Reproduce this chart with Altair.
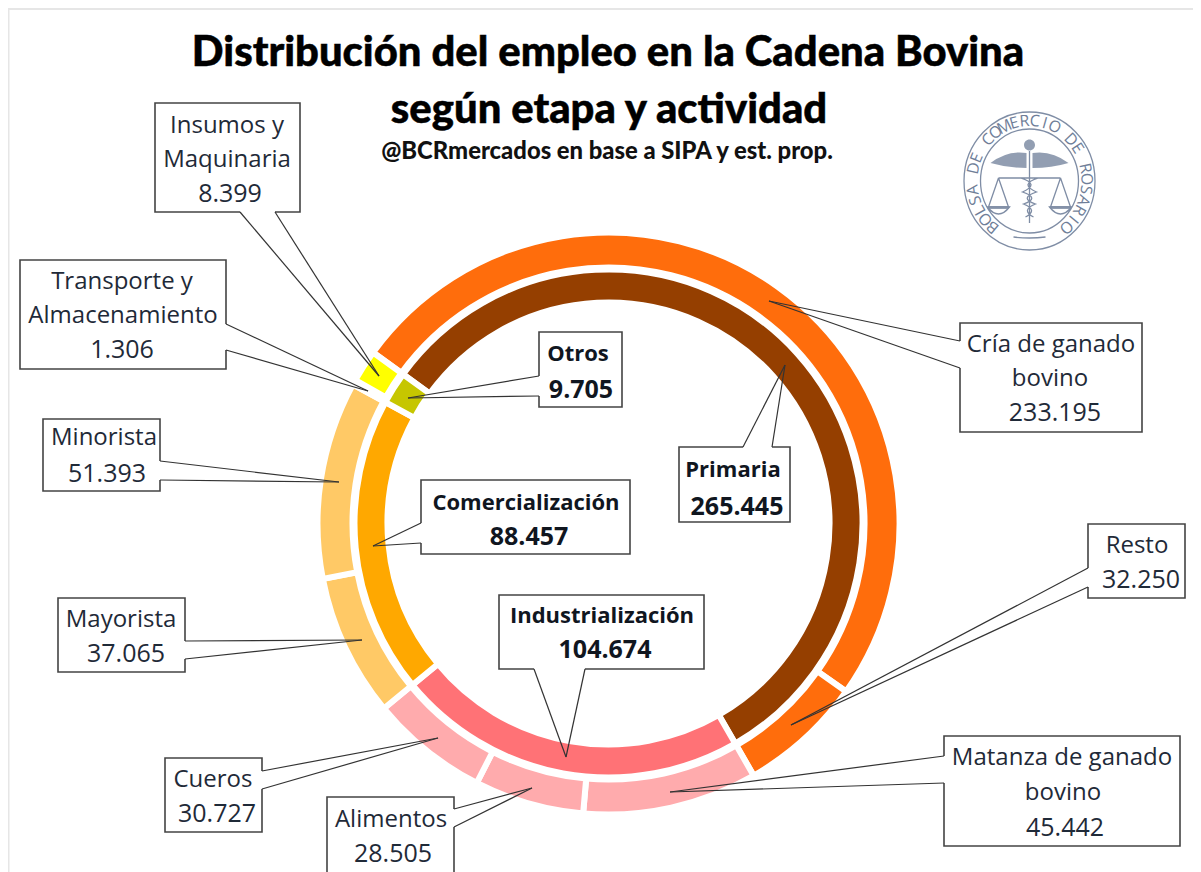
import math
import altair as alt
import pandas as pd

# ---------- values ----------
inner_names = ["Primaria", "Industrialización", "Comercialización", "Otros"]
inner_values = [265445, 104674, 88457, 9705]
inner_colors = ["#953F00", "#FF7276", "#FFA800", "#C6C600"]

outer_names = ["Cría de ganado bovino", "Resto", "Matanza de ganado bovino", "Alimentos",
               "Cueros", "Mayorista", "Minorista", "Transporte y Almacenamiento", "Insumos y Maquinaria"]
outer_values = [233195, 32250, 45442, 28505, 30727, 37065, 51393, 1306, 8399]
outer_colors = ["#FF6D0C", "#FF6D0C", "#FFABAD", "#FFABAD", "#FFABAD", "#FFC966", "#FFC966", "#FFFF00", "#FFFF00"]

# ---------- layout (reference pixels) ----------
OFF = 8
CX, CY = 608.5 - OFF, 523.5 - OFF
START = math.radians(-54.0)
W, H = 1185, 864
GAP = 6

# box: x0,y0,x1,y1, anchor a, anchor b, tip, bold, lines (text, cx, cy)
callouts = [
    (155, 103, 300, 212, (240, 212), (275, 212), (379, 376), False,
     [("Insumos y", 227, 125), ("Maquinaria", 227, 159), ("8.399", 230, 193)]),
    (20, 260, 226, 369, (226, 324), (226, 350), (368, 391), False,
     [("Transporte y", 122, 281), ("Almacenamiento", 123, 315), ("1.306", 122, 349)]),
    (43, 419, 160, 491, (160, 461), (160, 480), (339, 482), False,
     [("Minorista", 104, 437), ("51.393", 107, 473)]),
    (58, 598, 185, 672, (185, 641), (185, 659), (362, 640), False,
     [("Mayorista", 121, 619), ("37.065", 126, 653)]),
    (165, 758, 262, 832, (262, 771), (262, 789), (438, 738), False,
     [("Cueros", 213, 779), ("30.727", 217, 813)]),
    (327, 797, 454, 885, (454, 809), (454, 827), (532, 788), False,
     [("Alimentos", 391, 819), ("28.505", 393, 853)]),
    (944, 736, 1180, 846, (944, 756), (944, 783), (670, 792), False,
     [("Matanza de ganado", 1062, 757), ("bovino", 1063, 792), ("45.442", 1065, 827)]),
    (1088, 524, 1185, 598, (1088, 568), (1088, 587), (791, 725), False,
     [("Resto", 1137, 545), ("32.250", 1141, 579)]),
    (960, 323, 1142, 432, (960, 341), (960, 368), (769, 301), False,
     [("Cría de ganado", 1051, 344), ("bovino", 1050, 378), ("233.195", 1055, 412)]),
    (679, 447, 790, 522, (743, 447), (772, 447), (785, 365), True,
     [("Primaria", 733, 469), ("265.445", 737, 506)]),
    (539, 332, 622, 407, (539, 376), (539, 396), (408, 398), True,
     [("Otros", 578, 353), ("9.705", 581, 389)]),
    (421, 480, 630, 554, (421, 523), (421, 543), (373, 546), True,
     [("Comercialización", 526, 502), ("88.457", 529, 536)]),
    (499, 595, 704, 669, (534, 669), (585, 669), (566, 757), True,
     [("Industrialización", 602, 615), ("104.674", 605, 649)]),
]

boxes, pointers, erasers, labels = [], [], [], []
for x0, y0, x1, y1, a, b, tip, bold, lines in callouts:
    boxes.append(dict(x=x0 - OFF, x2=x1 - OFF, y=y0 - OFF, y2=y1 - OFF))
    for p in (a, b):
        pointers.append(dict(x=p[0] - OFF, y=p[1] - OFF, x2=tip[0] - OFF, y2=tip[1] - OFF))
    erasers.append(dict(x=a[0] - OFF, y=a[1] - OFF, x2=b[0] - OFF, y2=b[1] - OFF))
    for t, lx, ly in lines:
        size = 25 if t[0].isdigit() else (22 if bold else 24)
        labels.append(dict(t=t, x=lx - OFF, y=ly - OFF + 1, w="bold" if bold else "normal", s=size))

X = lambda f="x": alt.X(f"{f}:Q", scale=None, axis=None)
Y = lambda f="y": alt.Y(f"{f}:Q", scale=None, axis=None)


def ring(names, values, colors, r_out, r_in):
    df = pd.DataFrame({"name": names, "value": values, "color": colors, "k": range(len(names))})
    return alt.Chart(df).mark_arc(
        radius=r_out + GAP / 2, radius2=r_in - GAP / 2, stroke="white", strokeWidth=GAP
    ).encode(
        theta=alt.Theta("value:Q", stack=True, scale=alt.Scale(range=[START, START + 2 * math.pi])),
        color=alt.Color("color:N", scale=None),
        order=alt.Order("k:Q"),
        x=alt.value(CX),
        y=alt.value(CY),
    )


outer = ring(outer_names, outer_values, outer_colors, 288, 259)
inner = ring(inner_names, inner_values, inner_colors, 251, 224)

# page frame
frame = alt.Chart(pd.DataFrame([
    dict(x=0, y=1, x2=W, y2=1), dict(x=0.5, y=1, x2=0.5, y2=H)
])).mark_rule(color="#E6E6E6", strokeWidth=2).encode(x=X(), y=Y(), x2="x2:Q", y2="y2:Q")

box_layer = alt.Chart(pd.DataFrame(boxes)).mark_rect(
    fill="white", stroke="#444444", strokeWidth=1.6
).encode(x=X(), x2="x2:Q", y=Y(), y2="y2:Q")
eraser_layer = alt.Chart(pd.DataFrame(erasers)).mark_rule(color="white", strokeWidth=2.5).encode(
    x=X(), x2="x2:Q", y=Y(), y2="y2:Q")
pointer_layer = alt.Chart(pd.DataFrame(pointers)).mark_rule(color="#333333", strokeWidth=1.2).encode(
    x=X(), x2="x2:Q", y=Y(), y2="y2:Q")

LABEL_FONT = "Open Sans"
df_labels = pd.DataFrame(labels)
label_reg = alt.Chart(df_labels[df_labels.w == "normal"]).mark_text(
    font=LABEL_FONT, color="#1F2A38", baseline="middle", align="center"
).encode(x=X(), y=Y(), text="t:N", size=alt.Size("s:Q", scale=None))
label_bold = alt.Chart(df_labels[df_labels.w == "bold"]).mark_text(
    font=LABEL_FONT, fontWeight="bold", color="#10161F", baseline="middle", align="center"
).encode(x=X(), y=Y(), text="t:N", size=alt.Size("s:Q", scale=None))

TITLE_FONT = "Lato"
title_rows = pd.DataFrame([
    dict(t="Distribución del empleo en la Cadena Bovina", x=608 - OFF, y=53 - OFF),
    dict(t="según etapa y actividad", x=609 - OFF, y=110 - OFF),
])
title = alt.Chart(title_rows).mark_text(
    font=TITLE_FONT, fontWeight=900, color="black", baseline="middle", align="center", fontSize=41.8,
    stroke="black", strokeWidth=0.5
).encode(x=X(), y=Y(), text="t:N")
subtitle = alt.Chart(pd.DataFrame([dict(t="@BCRmercados  en base a SIPA y est. prop.", x=607 - OFF, y=152 - OFF)])).mark_text(
    font=TITLE_FONT, fontWeight=900, color="#111111", baseline="middle", align="center", fontSize=23.8
).encode(x=X(), y=Y(), text="t:N")

# seal
LX, LY = 1029.5 - OFF, 181 - OFF
SEAL = "#7F8DA5"
def ell(rx, ry):
    return f"M{-rx},0 A{rx},{ry} 0 1,1 {rx},0 A{rx},{ry} 0 1,1 {-rx},0 Z"
seal_outline = " ".join([
    ell(65.5, 69), ell(49, 52),
    "M-16,56 Q0,58 16,56",
    "M-31,-3 L31,-3 M-31,-3 L-41,26 M-31,-3 L-21,26 M31,-3 L21,26 M31,-3 L41,26",
    "M-42,26 Q-31,40 -20,26 Z M20,26 Q31,40 42,26 Z",
    "M0,-30 L0,42 M-9,-3 Q11,3 -7,11 Q11,17 -6,23 Q9,29 -4,36 M9,-3 Q-11,3 7,11 Q-11,17 6,23 Q-9,29 4,36",
])
seal_fill = " ".join([
    "M-5.5,-36 a5.5,5.5 0 1,1 11,0 a5.5,5.5 0 1,1 -11,0 Z",
    "M-3,-28 Q-22,-31 -39,-18 Q-22,-13 -3,-13 Z",
    "M3,-28 Q22,-31 39,-18 Q22,-13 3,-13 Z",
    "M-42,25 L-20,25 L-21,28 L-41,28 Z M20,25 L42,25 L41,28 L21,28 Z",
])
seal_df = pd.DataFrame([dict(x=LX, y=LY)])
seal1 = alt.Chart(seal_df).mark_point(
    shape=seal_outline, size=4, filled=False, stroke=SEAL, strokeWidth=1.3, opacity=1
).encode(x=X(), y=Y())
seal2 = alt.Chart(seal_df).mark_point(
    shape=seal_fill, size=4, filled=True, fill=SEAL, strokeWidth=0, opacity=0.85
).encode(x=X(), y=Y())

seal_text = "BOLSA DE COMERCIO DE ROSARIO"
A0, A1 = -140.0, 140.0
rows = []
for i, ch in enumerate(seal_text):
    a = A0 + (A1 - A0) * i / (len(seal_text) - 1)
    r = math.radians(a)
    rows.append(dict(t=ch, x=LX + 57 * math.sin(r), y=LY - 60 * math.cos(r), a=a % 360))
seal_letters = alt.Chart(pd.DataFrame(rows)).mark_text(
    font="Open Sans", fontSize=16, color="#6F7E98", baseline="middle", align="center"
).encode(x=X(), y=Y(), text="t:N", angle=alt.Angle("a:Q", scale=None))

chart = alt.layer(
    frame, outer, inner, title, subtitle, seal1, seal2, seal_letters,
    box_layer, eraser_layer, pointer_layer, label_reg, label_bold,
).properties(
    width=W, height=H, padding=0, background="white",
    autosize=alt.AutoSizeParams(type="none"),
).configure_view(stroke=None)

chart.save("out.html", embed_options={"renderer": "svg", "actions": False})
